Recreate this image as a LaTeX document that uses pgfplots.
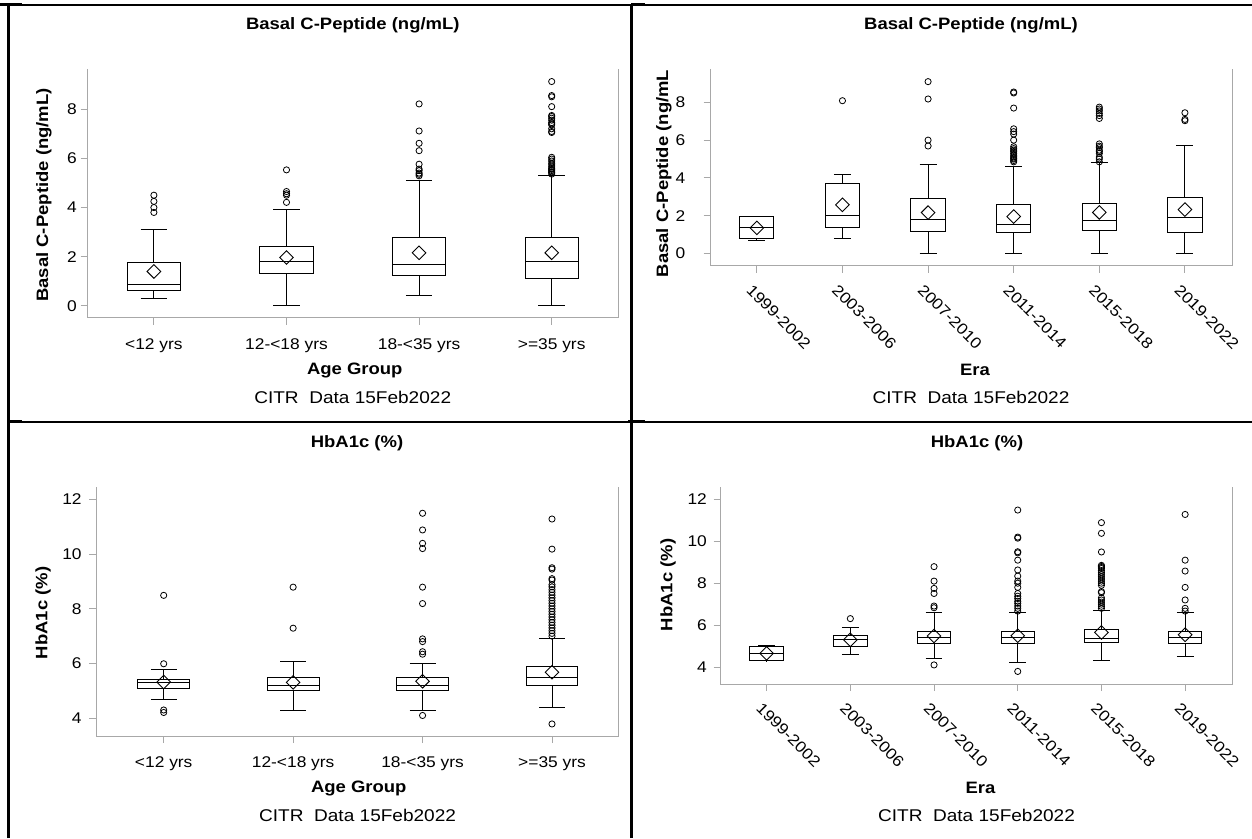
\documentclass[border=0pt]{standalone}
\usepackage{fontspec}
\setmainfont{Liberation Sans}[FakeStretch=1.12]
\usepackage{pgfplots}
\pgfplotsset{compat=1.18}
\usepgfplotslibrary{statistics}
\definecolor{axc}{RGB}{168,168,168}
\newcommand\tickf{\fontsize{15.5}{18}\selectfont}
\newcommand\labf{\fontsize{16.5}{19}\selectfont\bfseries}
\newcommand\footf{\fontsize{17}{20}\selectfont}
\pgfplotsset{
  panel/.style={scale only axis, anchor=south west,
    axis line style={draw=none},
    tick align=outside, major tick length=7pt,
    tick style={axc, line width=1pt},
    xtick pos=left, ytick pos=left,
    tick label style={font=\tickf, text=black},
    /pgf/number format/assume math mode=true,
    yticklabel style={anchor=east, inner sep=0pt, xshift=-3.6pt},
    clip=false},
  straightlab/.style={xticklabel style={anchor=north, inner sep=0pt, yshift=-13pt}},
  rotlab/.style={xticklabel style={xshift=-3.6pt, yshift=-10.4pt, rotate=-45, anchor=north west, inner sep=0pt}},
  bx/.style={black, line width=1pt, mark=o, mark options={line width=0.8pt, mark size=3.1pt, solid}},
  bp/.style={bx, boxplot prepared={draw direction=y, box extend=0.4, whisker extend=0.2, #1}},
  mn/.style={only marks, mark=square, mark size=4.8pt, mark options={rotate=45, line width=0.9pt, black, solid}},
}
\newcommand\frameaxis{\draw[axc, line width=1pt] (rel axis cs:0,1) -- (rel axis cs:0,0) -- (rel axis cs:1,0) -- (rel axis cs:1,1);}
\begin{document}
\begin{tikzpicture}
\path[use as bounding box] (0pt,0pt) rectangle (1252pt,838pt);
% panel frames
\draw[black, line width=3pt] (8pt,0pt) -- (8pt,834pt);
\draw[black, line width=3pt] (631pt,0pt) -- (631pt,834pt);
\draw[black, line width=1.5pt] (8pt,833pt) -- (1252pt,833pt);
\draw[black, line width=1.5pt] (8pt,416pt) -- (1252pt,416pt);
\draw[black, line width=3pt] (0pt,833pt) -- (22pt,833pt);
\draw[black, line width=3pt] (8pt,416pt) -- (22pt,416pt);
\draw[black, line width=3pt] (631pt,833pt) -- (645pt,833pt);
\draw[black, line width=3pt] (628pt,416pt) -- (645pt,416pt);

% ---------------- Top-left ----------------
\begin{axis}[panel, straightlab, at={(87.6pt,520pt)}, width=530.4pt, height=249pt,
  xmin=-0.5, xmax=3.5, ymin=-0.49, ymax=9.63,
  xtick={0,1,2,3}, xticklabels={{<12 yrs},{12-<18 yrs},{18-<35 yrs},{>=35 yrs}},
  ytick={0,2,4,6,8}]
\frameaxis
\addplot[bp={draw position=0, lower whisker=0.31, lower quartile=0.61, median=0.89, upper quartile=1.77, upper whisker=3.11}]
  table[row sep=\\, y index=0] {y\\3.8\\4.0\\4.25\\4.5\\};
\addplot[bp={draw position=1, lower whisker=0, lower quartile=1.30, median=1.81, upper quartile=2.41, upper whisker=3.90}]
  table[row sep=\\, y index=0] {y\\4.21\\4.5\\4.56\\4.65\\5.53\\};
\addplot[bp={draw position=2, lower whisker=0.41, lower quartile=1.22, median=1.70, upper quartile=2.79, upper whisker=5.10}]
  table[row sep=\\, y index=0] {y\\5.29\\5.35\\5.4\\5.5\\5.56\\5.76\\6.31\\6.61\\7.11\\8.21\\};
\addplot[bp={draw position=3, lower whisker=0, lower quartile=1.10, median=1.81, upper quartile=2.79, upper whisker=5.31}]
  table[row sep=\\, y index=0] {y\\5.36\\5.42\\5.45\\5.5\\5.55\\5.59\\5.65\\5.73\\5.8\\5.89\\5.97\\6.04\\7.05\\7.09\\7.2\\7.36\\7.4\\7.45\\7.55\\7.63\\7.7\\7.74\\8.1\\8.5\\8.55\\9.12\\};
\addplot[mn] coordinates {(0,1.40) (1,1.97) (2,2.16) (3,2.16)};
\end{axis}
\node[font=\labf] at (352.8pt,813pt) {Basal C-Peptide (ng/mL)};
\node[font=\labf] at (354.8pt,468pt) {Age Group};
\node[font=\footf] at (352.7pt,441pt) {CITR\ \ Data 15Feb2022};
\node[font=\labf, rotate=90] at (44pt,643pt) {Basal C-Peptide (ng/mL)};

% ---------------- Top-right ----------------
\begin{axis}[panel, rotlab, at={(710.6pt,572pt)}, width=521.4pt, height=197pt,
  xmin=-0.54, xmax=5.55, ymin=-0.67, ymax=9.77,
  xtick={0,1,2,3,4,5}, xticklabels={1999-2002,2003-2006,2007-2010,2011-2014,2015-2018,2019-2022},
  yticklabel style={xshift=-14.6pt},
  ytick={0,2,4,6,8}]
\frameaxis
\addplot[bp={draw position=0, lower whisker=0.70, lower quartile=0.78, median=1.38, upper quartile=1.93, upper whisker=1.96}]
  coordinates {};
\addplot[bp={draw position=1, lower whisker=0.79, lower quartile=1.39, median=2.01, upper quartile=3.71, upper whisker=4.19}]
  table[row sep=\\, y index=0] {y\\8.09\\};
\addplot[bp={draw position=2, lower whisker=0, lower quartile=1.18, median=1.79, upper quartile=2.90, upper whisker=4.70}]
  table[row sep=\\, y index=0] {y\\5.69\\6.0\\8.18\\9.10\\};
\addplot[bp={draw position=3, lower whisker=0, lower quartile=1.09, median=1.54, upper quartile=2.61, upper whisker=4.60}]
  table[row sep=\\, y index=0] {y\\4.85\\4.92\\5.0\\5.05\\5.12\\5.2\\5.3\\5.4\\5.47\\5.55\\5.65\\6.0\\6.32\\6.45\\6.6\\7.7\\8.5\\8.55\\};
\addplot[bp={draw position=4, lower whisker=0, lower quartile=1.19, median=1.75, upper quartile=2.65, upper whisker=4.80}]
  table[row sep=\\, y index=0] {y\\4.85\\5.0\\5.1\\5.3\\5.4\\5.47\\5.6\\5.68\\5.8\\7.15\\7.3\\7.42\\7.55\\7.65\\7.75\\};
\addplot[bp={draw position=5, lower whisker=0, lower quartile=1.11, median=1.91, upper quartile=2.97, upper whisker=5.70}]
  table[row sep=\\, y index=0] {y\\7.03\\7.1\\7.45\\};
\addplot[mn] coordinates {(0,1.35) (1,2.57) (2,2.16) (3,1.95) (4,2.17) (5,2.32)};
\end{axis}
\node[font=\labf] at (971pt,813pt) {Basal C-Peptide (ng/mL)};
\node[font=\labf] at (975pt,468pt) {Era};
\node[font=\footf] at (971pt,441pt) {CITR\ \ Data 15Feb2022};
\node[font=\labf, rotate=90] at (664pt,664.5pt) {Basal C-Peptide (ng/mL};

% ---------------- Bottom-left ----------------
\begin{axis}[panel, straightlab, at={(96.4pt,102pt)}, width=521.6pt, height=249pt,
  xmin=-0.52, xmax=3.51, ymin=3.35, ymax=12.45,
  xtick={0,1,2,3}, xticklabels={{<12 yrs},{12-<18 yrs},{18-<35 yrs},{>=35 yrs}},
  yticklabel style={xshift=-4pt},
  ytick={4,6,8,10,12}]
\frameaxis
\addplot[bp={draw position=0, lower whisker=4.69, lower quartile=5.10, median=5.31, upper quartile=5.40, upper whisker=5.79}]
  table[row sep=\\, y index=0] {y\\4.21\\4.30\\5.99\\8.49\\};
\addplot[bp={draw position=1, lower whisker=4.30, lower quartile=5.00, median=5.19, upper quartile=5.50, upper whisker=6.09}]
  table[row sep=\\, y index=0] {y\\7.29\\8.79\\};
\addplot[bp={draw position=2, lower whisker=4.30, lower quartile=5.00, median=5.19, upper quartile=5.50, upper whisker=5.99}]
  table[row sep=\\, y index=0] {y\\4.10\\6.34\\6.43\\6.80\\6.90\\8.19\\8.79\\10.2\\10.39\\10.88\\11.49\\};
\addplot[bp={draw position=3, lower whisker=4.40, lower quartile=5.19, median=5.50, upper quartile=5.89, upper whisker=6.90}]
  table[row sep=\\, y index=0] {y\\3.79\\7.0\\7.1\\7.2\\7.3\\7.4\\7.5\\7.6\\7.7\\7.8\\7.9\\8.0\\8.1\\8.2\\8.3\\8.4\\8.5\\8.6\\8.7\\8.8\\8.88\\9.05\\9.1\\9.45\\9.5\\10.18\\11.28\\};
\addplot[mn] coordinates {(0,5.32) (1,5.31) (2,5.35) (3,5.68)};
\end{axis}
\node[font=\labf] at (357pt,395pt) {HbA1c (\%)};
\node[font=\labf] at (358.8pt,50pt) {Age Group};
\node[font=\footf] at (357.6pt,23pt) {CITR\ \ Data 15Feb2022};
\node[font=\labf, rotate=90] at (43pt,225pt) {HbA1c (\%)};

% ---------------- Bottom-right ----------------
\begin{axis}[panel, rotlab, at={(720.6pt,154pt)}, width=511.4pt, height=197pt,
  xmin=-0.55, xmax=5.56, ymin=3.19, ymax=12.59,
  xtick={0,1,2,3,4,5}, xticklabels={1999-2002,2003-2006,2007-2010,2011-2014,2015-2018,2019-2022},
  yticklabel style={xshift=-3pt},
  ytick={4,6,8,10,12}]
\frameaxis
\addplot[bp={draw position=0, lower whisker=4.29, lower quartile=4.30, median=4.65, upper quartile=5.00, upper whisker=5.01}]
  coordinates {};
\addplot[bp={draw position=1, lower whisker=4.60, lower quartile=5.00, median=5.32, upper quartile=5.51, upper whisker=5.89}]
  table[row sep=\\, y index=0] {y\\6.31\\};
\addplot[bp={draw position=2, lower whisker=4.40, lower quartile=5.10, median=5.40, upper quartile=5.69, upper whisker=6.59}]
  table[row sep=\\, y index=0] {y\\4.10\\6.83\\6.91\\7.51\\7.75\\8.10\\8.79\\};
\addplot[bp={draw position=3, lower whisker=4.21, lower quartile=5.10, median=5.40, upper quartile=5.69, upper whisker=6.59}]
  table[row sep=\\, y index=0] {y\\3.79\\6.67\\6.8\\6.91\\7.04\\7.14\\7.27\\7.38\\7.51\\7.8\\8.0\\8.1\\8.34\\8.63\\9.1\\9.45\\9.5\\10.15\\10.2\\11.49\\};
\addplot[bp={draw position=4, lower whisker=4.30, lower quartile=5.18, median=5.38, upper quartile=5.78, upper whisker=6.69}]
  table[row sep=\\, y index=0] {y\\6.8\\6.9\\7.0\\7.1\\7.2\\7.3\\7.55\\7.6\\7.9\\8.0\\8.1\\8.2\\8.3\\8.4\\8.5\\8.6\\8.7\\8.75\\8.8\\8.85\\9.49\\10.38\\10.89\\};
\addplot[bp={draw position=5, lower whisker=4.49, lower quartile=5.10, median=5.40, upper quartile=5.69, upper whisker=6.59}]
  table[row sep=\\, y index=0] {y\\6.67\\6.8\\7.2\\7.8\\8.58\\9.1\\11.28\\};
\addplot[mn] coordinates {(0,4.65) (1,5.30) (2,5.48) (3,5.49) (4,5.65) (5,5.54)};
\end{axis}
\node[font=\labf] at (977pt,395pt) {HbA1c (\%)};
\node[font=\labf] at (980.5pt,50pt) {Era};
\node[font=\footf] at (976.5pt,23pt) {CITR\ \ Data 15Feb2022};
\node[font=\labf, rotate=90] at (668pt,253pt) {HbA1c (\%)};
\end{tikzpicture}
\end{document}
